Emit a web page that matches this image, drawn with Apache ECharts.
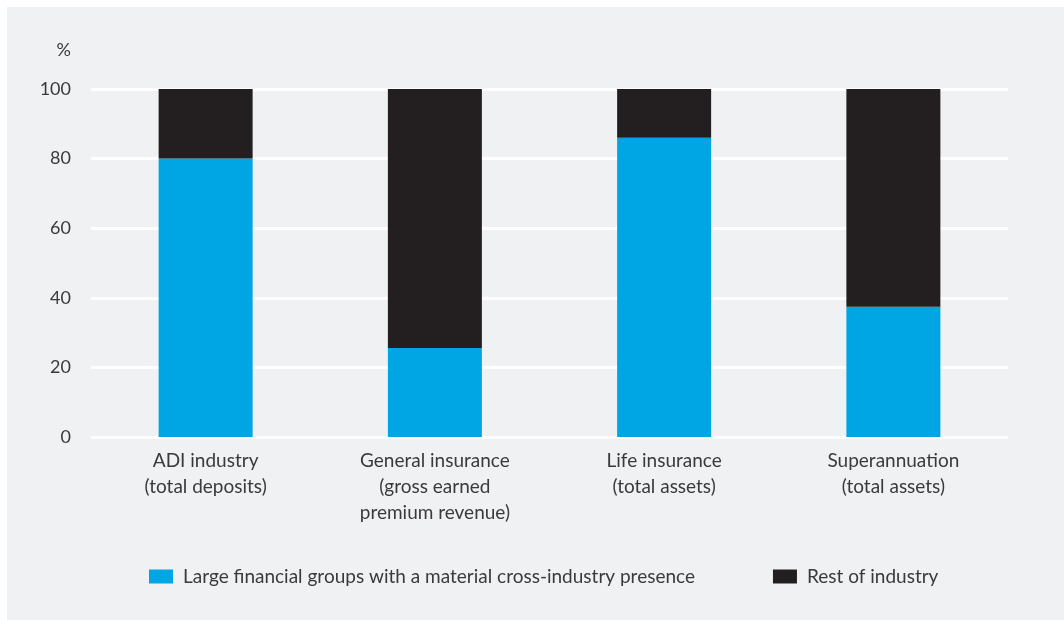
<!DOCTYPE html>
<html>
<head>
<meta charset="utf-8">
<script src="https://cdn.jsdelivr.net/npm/echarts@6/dist/echarts.min.js"></script>
<style>
  html, body { margin: 0; padding: 0; background: #fff; }
  .panel {
    position: absolute;
    left: 7px;
    top: 7px;
    width: 1057px;
    height: 613px;
    background: #f0f1f3;
  }
</style>
</head>
<body>
<div class="panel" id="chart"></div>
<script>
  var categories = [
    'ADI industry\n(total deposits)',
    'General insurance\n(gross earned\npremium revenue)',
    'Life insurance\n(total assets)',
    'Superannuation\n(total assets)'
  ]
  var largeGroups = [80, 25.6, 86, 37.4]  // 大型金融集团
  var restOfIndustry = [20, 74.4, 14, 62.6] // 其余
  var seriesNames = ['Large financial groups with a material cross-industry presence', 'Rest of industry']

  var textColor = '#3a3a3a'
  var font = 'Lato, "Open Sans", sans-serif'

  var myChart = echarts.init(document.getElementById('chart'))
  var option = {
    animation: false,
    textStyle: { fontFamily: font },
    grid: { left: 84, right: 56, top: 82, bottom: 183 },
    legend: {
      data: seriesNames,
      left: 142,
      top: 560,
      padding: 0,
      itemWidth: 24,
      itemHeight: 14,
      itemGap: 78,
      icon: 'rect',
      textStyle: { color: textColor, fontSize: 19, fontFamily: font, padding: [0, 0, 0, 5] }
    },
    xAxis: {
      type: 'category',
      data: categories,
      axisLine: { show: false },
      axisTick: { show: false },
      axisLabel: {
        color: textColor,
        fontSize: 19,
        lineHeight: 26,
        margin: 11,
        fontFamily: font
      }
    },
    yAxis: {
      type: 'value',
      min: 0,
      max: 100,
      interval: 20,
      name: '%',
      nameLocation: 'end',
      nameGap: 30,
      nameTextStyle: { color: textColor, fontSize: 18, align: 'right', padding: [0, 20, 0, 0], fontFamily: font },
      axisLine: { show: false },
      axisTick: { show: false },
      axisLabel: { color: textColor, fontSize: 18, margin: 20, fontFamily: font },
      splitLine: { lineStyle: { color: '#ffffff', width: 3 } }
    },
    series: [
      {
        name: seriesNames[0],
        type: 'bar',
        stack: 'total',
        data: largeGroups,
        barWidth: 94,
        itemStyle: { color: '#00a5e3' }
      },
      {
        name: seriesNames[1],
        type: 'bar',
        stack: 'total',
        data: restOfIndustry,
        barWidth: 94,
        itemStyle: { color: '#231f20' }
      }
    ]
  }
  myChart.setOption(option)
</script>
</body>
</html>
